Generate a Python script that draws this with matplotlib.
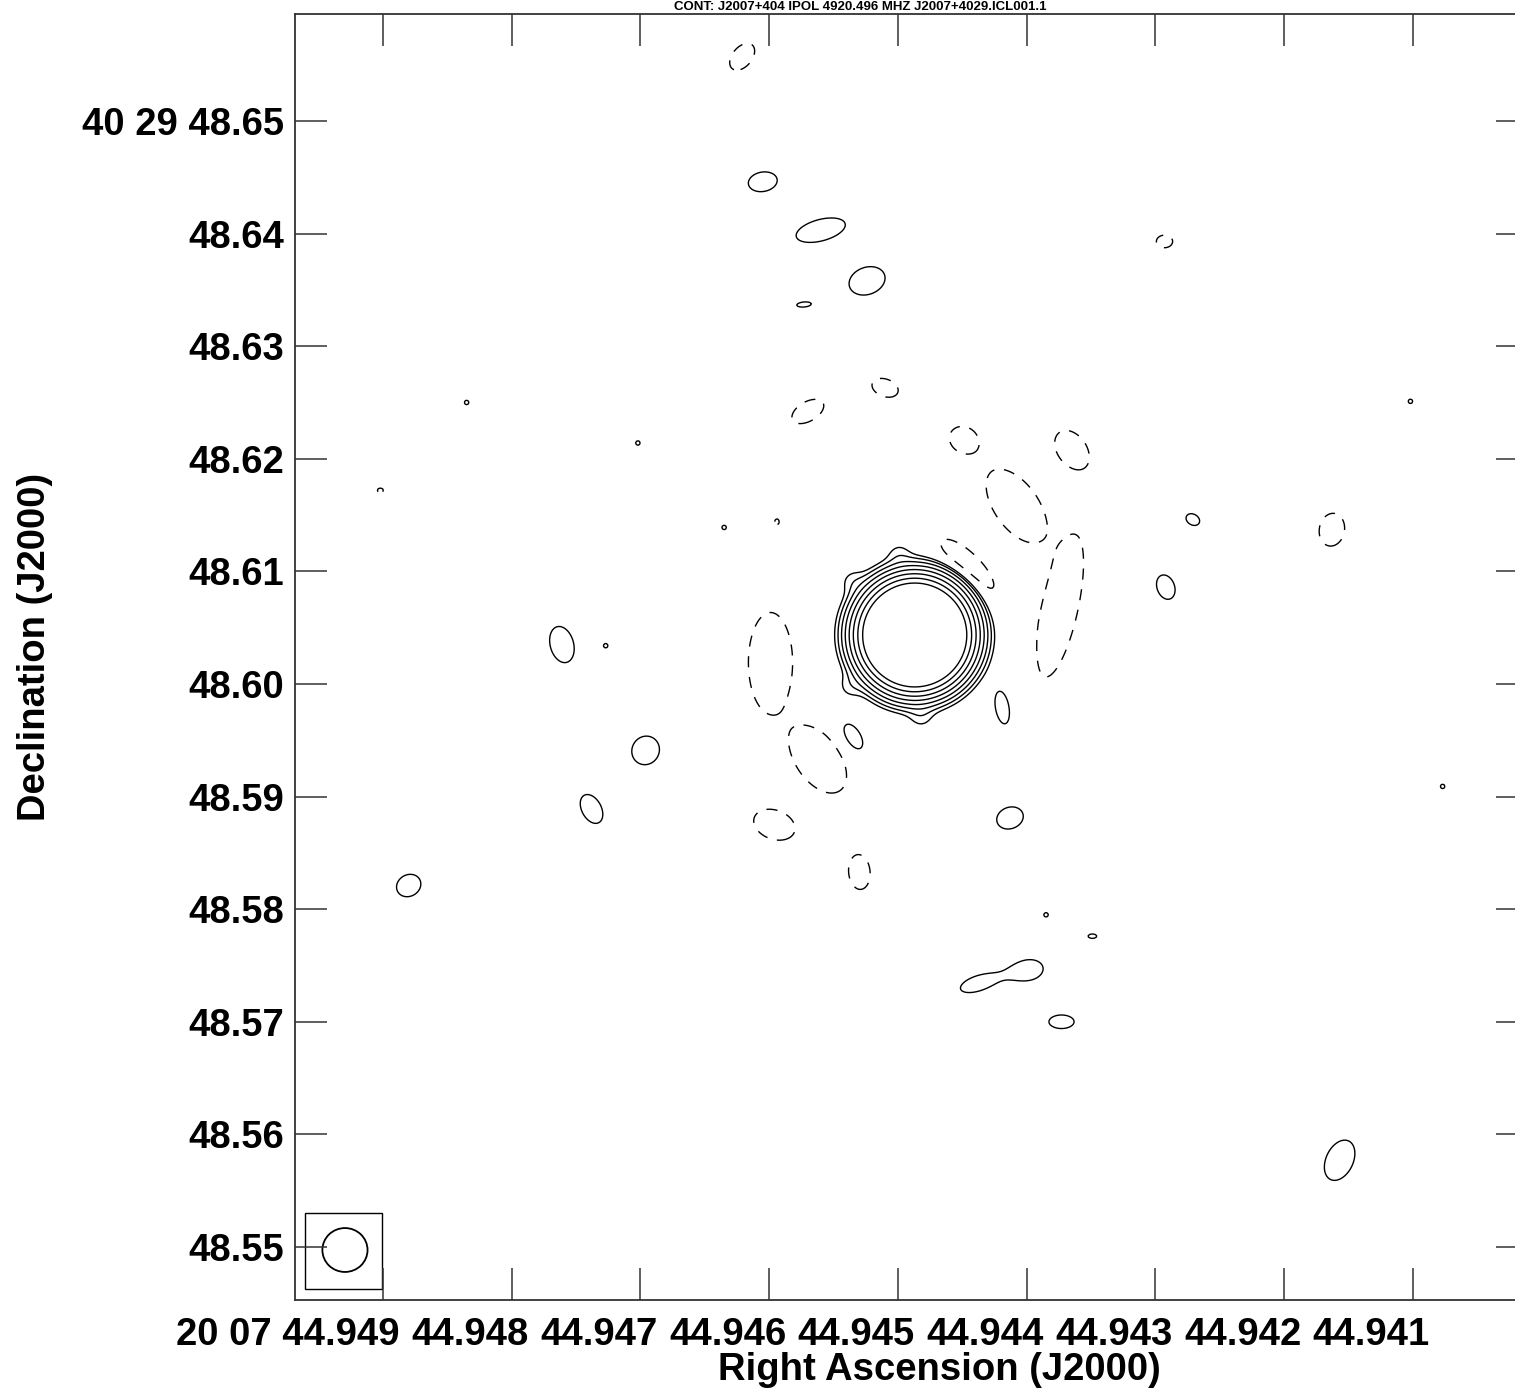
import numpy as np
import matplotlib
matplotlib.use('Agg')
import matplotlib.pyplot as plt
from matplotlib.patches import Rectangle, Ellipse
from matplotlib.transforms import ScaledTranslation

plt.rcParams['font.family'] = ['Liberation Sans', 'DejaVu Sans']
plt.rcParams['font.weight'] = 'bold'

# axis ticks (RA seconds of 20h07m, Dec arcsec of +40d29m)
ra_ticks = [44.949, 44.948, 44.947, 44.946, 44.945, 44.944, 44.943, 44.942, 44.941]
ra_labels = ['20 07 44.949', '44.948', '44.947', '44.946', '44.945',
             '44.944', '44.943', '44.942', '44.941']
dec_ticks = [48.65, 48.64, 48.63, 48.62, 48.61, 48.60, 48.59, 48.58, 48.57, 48.56, 48.55]
dec_labels = ['40 29 48.65', '48.64', '48.63', '48.62', '48.61', '48.60',
              '48.59', '48.58', '48.57', '48.56', '48.55']
ra_lim = (44.949683, 44.940107)
dec_lim = (48.54529, 48.65950)

# contour levels (relative to lowest level); negative -> dashed
levels = [-1, 1, 2, 4, 8, 16, 32, 64, 128]

# emission components: RA (s), Dec (arcsec), peak,
# gaussian sigma along major / minor axis (mas), angle (deg, ccw from right)
comp_ra = [44.94487, 44.94499, 44.94535, 44.94537, 44.94482,
           # positive islands
           44.94605, 44.94560, 44.94524, 44.94573, 44.94761, 44.94696, 44.94738,
           44.94880, 44.94535, 44.94419, 44.94413, 44.94438, 44.94397, 44.94373,
           44.94349, 44.94292, 44.94271, 44.94157,
           # single-pixel spikes
           44.94835, 44.94702, 44.94635, 44.94727, 44.94102, 44.94077, 44.94385,
           # negative islands
           44.94621, 44.94570, 44.94510, 44.94449, 44.94365, 44.94408, 44.94374,
           44.94446, 44.94599, 44.94562, 44.94596, 44.94530, 44.94163, 44.94293,
           44.94902, 44.94594]
comp_dec = [48.60435, 48.6115, 48.6091, 48.5998, 48.5971,
            48.6446, 48.6403, 48.6358, 48.6337, 48.6035, 48.5941, 48.5889,
            48.5821, 48.5953, 48.5979, 48.5881, 48.5734, 48.5746, 48.5700,
            48.5776, 48.6086, 48.6146, 48.5577,
            48.6250, 48.6214, 48.6139, 48.6034, 48.6251, 48.5909, 48.5795,
            48.6557, 48.6242, 48.6263, 48.6217, 48.6208, 48.6158, 48.6069,
            48.6104, 48.6019, 48.5933, 48.5875, 48.5833, 48.6137, 48.6393,
            48.6172, 48.6144]
comp_amp = [4460, 1.2, 1.2, 1.2, 1.2,
            1.6, 1.6, 1.6, 1.3, 1.6, 1.6, 1.6,
            1.6, 1.6, 1.6, 1.6, 1.25, 1.25, 1.6,
            1.3, 1.6, 1.5, 1.6,
            1.3, 1.3, 1.3, 1.3, 1.3, 1.3, 1.3,
            -1.6, -1.6, -1.6, -1.6, -1.6, -3.0, -3.0,
            -1.6, -3.0, -3.0, -1.6, -1.6, -1.6, -1.5,
            -1.3, -1.3]
comp_smaj = [1.73, 0.8, 0.8, 0.8, 0.8,
             1.33, 2.31, 1.69, 0.89, 1.69, 1.33, 1.42,
             1.15, 1.33, 1.51, 1.24, 2.40, 1.50, 1.15,
             0.53, 1.15, 0.71, 1.95,
             0.27, 0.27, 0.27, 0.27, 0.27, 0.27, 0.27,
             1.42, 1.60, 1.24, 1.33, 1.95, 2.52, 4.32,
             3.37, 3.00, 2.28, 1.95, 1.60, 1.51, 0.80,
             0.36, 0.36]
comp_smin = [1.73, 0.8, 0.8, 0.8, 0.8,
             0.89, 0.98, 1.24, 0.31, 1.07, 1.24, 0.89,
             0.98, 0.71, 0.62, 0.98, 1.00, 1.10, 0.62,
             0.27, 0.80, 0.53, 1.24,
             0.27, 0.27, 0.27, 0.27, 0.27, 0.27, 0.27,
             0.89, 0.89, 0.80, 1.15, 1.33, 1.32, 1.08,
             1.24, 1.32, 1.32, 1.33, 0.98, 1.15, 0.62,
             0.27, 0.27]
comp_pa = [0, 0, 0, 0, 0,
           10, 15, 20, 5, 105, 60, 118,
           30, 121, 100, 20, 18, 10, 0,
           0, 110, -30, 65,
           0, 0, 0, 0, 0, 0, 0,
           50, 30, -20, -30, -55, -55, 78,
           -45, 90, -55, -20, 95, 80, 0,
           0, 90]

# restoring beam (FWHM, mas)
beam_maj, beam_min, beam_pa = 4.0, 3.9, 0
beam_ra, beam_dec = 44.949295, 48.54973
beam_box_ra = (44.949606, 44.949008)
beam_box_dec = (48.54627, 48.55302)

# --- build the map on a grid ---
cosd = np.cos(np.radians(40 + 29 / 60 + 48.6 / 3600))
ra_grid = np.linspace(ra_lim[1], ra_lim[0], 1000)
dec_grid = np.linspace(dec_lim[0], dec_lim[1], 1000)
RA, DEC = np.meshgrid(ra_grid, dec_grid)
Z = np.zeros_like(RA)
for ra0, dec0, a, smaj, smin, pa in zip(comp_ra, comp_dec, comp_amp, comp_smaj, comp_smin, comp_pa):
    dx = (ra0 - RA) * 15 * cosd * 1000.0
    dy = (DEC - dec0) * 1000.0
    t = np.radians(pa)
    u = dx * np.cos(t) + dy * np.sin(t)
    v = -dx * np.sin(t) + dy * np.cos(t)
    Z += a * np.exp(-0.5 * ((u / smaj) ** 2 + (v / smin) ** 2))

fig = plt.figure(figsize=(15.15, 13.9), dpi=100)
ax = fig.add_axes([295 / 1515, 90 / 1390, 1233 / 1515, 1286 / 1390])

styles = [(0, (8, 7)) if lv < 0 else 'solid' for lv in levels]
ax.contour(RA, DEC, Z, levels=levels, colors='k', linewidths=1.0, linestyles=styles)

# beam
ax.add_patch(Rectangle((beam_box_ra[0], beam_box_dec[0]),
                       beam_box_ra[1] - beam_box_ra[0], beam_box_dec[1] - beam_box_dec[0],
                       fill=False, edgecolor='k', lw=1.0))
ax.add_patch(Ellipse((beam_ra, beam_dec),
                     width=-beam_maj / 1000.0 / (15 * cosd), height=beam_min / 1000.0,
                     angle=beam_pa, fill=False, edgecolor='k', lw=1.3))

ax.set_xlim(ra_lim)
ax.set_ylim(dec_lim)
ax.set_xticks(ra_ticks, ra_labels)
ax.set_yticks(dec_ticks, dec_labels)
ax.tick_params(direction='in', length=23, width=1.1, top=True, right=True,
               labelsize=27.5, color='#333333')
ax.tick_params(axis='x', pad=12)
ax.tick_params(axis='y', pad=8)
for lab in ax.get_xticklabels():
    lab.set_horizontalalignment('right')
    lab.set_transform(lab.get_transform() + ScaledTranslation(0.17, 0, fig.dpi_scale_trans))
    lab.set_fontweight('bold')
for lab in ax.get_yticklabels():
    lab.set_fontweight('bold')
for sp in ax.spines.values():
    sp.set_linewidth(1.3)
    sp.set_color('#333333')

fig.text(939 / 1515, 1 - 1370 / 1390, 'Right Ascension (J2000)', ha='center', va='center',
         fontsize=27.5, fontweight='bold')
fig.text(35 / 1515, 1 - 647 / 1390, 'Declination (J2000)', ha='center', va='center',
         rotation=90, fontsize=27.5, fontweight='bold')
fig.text(860 / 1515, 1 - 7 / 1390, 'CONT: J2007+404 IPOL 4920.496 MHZ J2007+4029.ICL001.1',
         ha='center', va='center', fontsize=9.5, fontweight='bold')

fig.savefig('out.png', dpi=100)
